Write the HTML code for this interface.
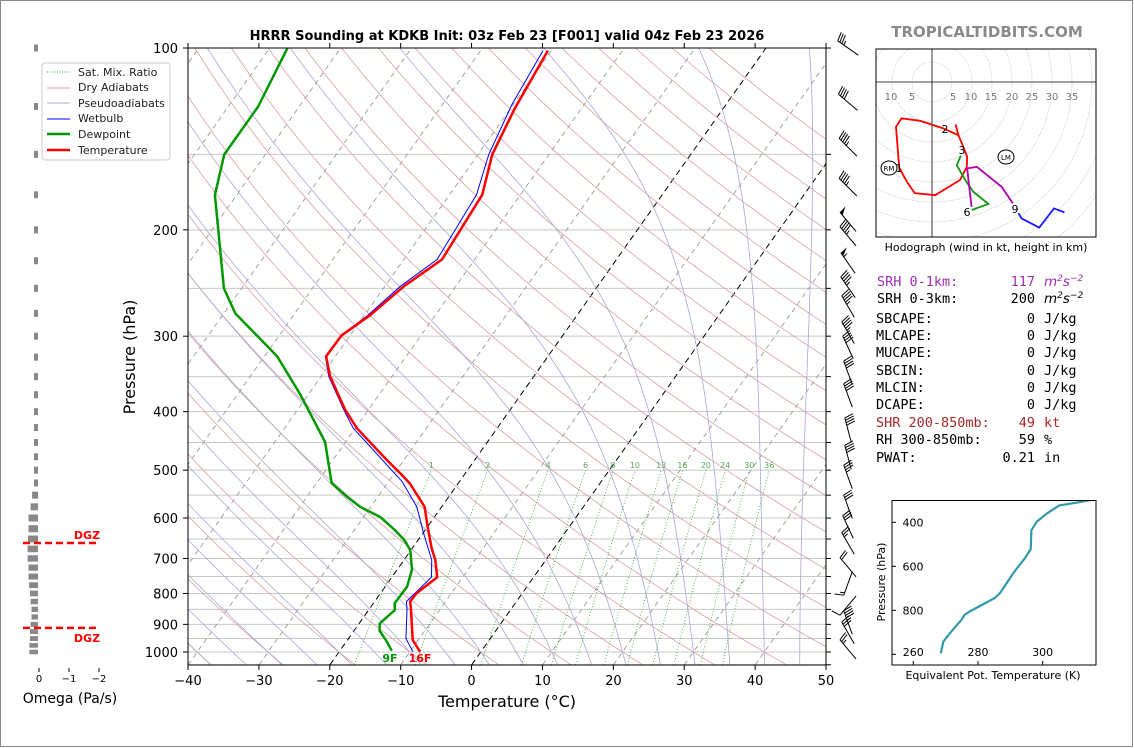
<!DOCTYPE html>
<html><head><meta charset="utf-8"><title>HRRR Sounding KDKB</title>
<style>
html,body{margin:0;padding:0;background:#fff;}
body{width:1134px;height:748px;overflow:hidden;}
svg{display:block;font-family:"DejaVu Sans","Liberation Sans",sans-serif;}
.mono{font-family:"DejaVu Sans Mono","Liberation Mono",monospace;}
</style></head>
<body>
<svg id="fig" width="1134" height="748" viewBox="0 0 1134 748" xmlns="http://www.w3.org/2000/svg">
  <rect x="0.5" y="0.5" width="1132" height="746" fill="#fff" stroke="#888"/>
  <defs>
    <clipPath id="plotclip"><rect x="188" y="48" width="638" height="617"/></clipPath>
    <clipPath id="hodoclip"><rect x="876" y="49" width="220" height="188"/></clipPath>
    <clipPath id="thclip"><rect x="892" y="500" width="204" height="165"/></clipPath>
  </defs>
  <text x="507" y="40" text-anchor="middle" font-size="13" font-weight="bold">HRRR Sounding at KDKB Init: 03z Feb 23 [F001] valid 04z Feb 23 2026</text>
  <text x="987" y="37" text-anchor="middle" font-size="15" font-weight="bold" fill="#8a8a8a">TROPICALTIDBITS.COM</text>

  <g id="bg" clip-path="url(#plotclip)"></g>
  <g id="profiles" clip-path="url(#plotclip)"></g>
  <rect x="188" y="48" width="638" height="617" fill="none" stroke="#000" stroke-width="1"/>
  <g id="axes"></g>
  <text x="507" y="707" text-anchor="middle" font-size="16">Temperature (°C)</text>
  <text x="0" y="0" transform="translate(135,357) rotate(-90)" text-anchor="middle" font-size="16">Pressure (hPa)</text>
  <text x="390" y="662" text-anchor="middle" font-size="11" font-weight="bold" fill="#009900">9F</text>
  <text x="420" y="662" text-anchor="middle" font-size="11" font-weight="bold" fill="#ff0000">16F</text>

  <g id="legend">
    <rect x="42" y="63" width="128" height="97" rx="3" fill="#fff" stroke="#ccc"/>
    <line x1="47" y1="72" x2="70" y2="72" stroke="#4a4" stroke-dasharray="1,1.5"/>
    <text x="78" y="76" font-size="11" fill="#222">Sat. Mix. Ratio</text>
    <line x1="47" y1="88" x2="70" y2="88" stroke="#d8aaaa"/>
    <text x="78" y="91" font-size="11" fill="#222">Dry Adiabats</text>
    <line x1="47" y1="103" x2="70" y2="103" stroke="#aaaad8"/>
    <text x="78" y="107" font-size="11" fill="#222">Pseudoadiabats</text>
    <line x1="47" y1="119" x2="70" y2="119" stroke="#00f"/>
    <text x="78" y="122" font-size="11" fill="#222">Wetbulb</text>
    <line x1="47" y1="134" x2="70" y2="134" stroke="#009900" stroke-width="2.5"/>
    <text x="78" y="138" font-size="11" fill="#222">Dewpoint</text>
    <line x1="47" y1="150" x2="70" y2="150" stroke="#f00" stroke-width="2.5"/>
    <text x="78" y="154" font-size="11" fill="#222">Temperature</text>
  </g>

  <g id="omega"></g>
  <text x="70" y="703" text-anchor="middle" font-size="14">Omega (Pa/s)</text>

  <g id="barbs"></g>

  <g id="hodo">
    <g id="hodoinner" clip-path="url(#hodoclip)"></g>
    <rect x="876" y="49" width="220" height="188" fill="none" stroke="#000"/>
  </g>
  <text x="986" y="251" text-anchor="middle" font-size="11">Hodograph (wind in kt, height in km)</text>

  <g class="mono" font-size="13.5">
    <text x="877" y="286" fill="#9b2fae">SRH 0-1km:</text>
    <text x="1035" y="286" fill="#9b2fae" text-anchor="end">117</text>
    <text x="1044" y="286" fill="#9b2fae" font-style="italic" font-family="DejaVu Sans">m<tspan dy="-5" font-size="9">2</tspan><tspan dy="5">s</tspan><tspan dy="-5" font-size="9">−2</tspan></text>
    <text x="877" y="303">SRH 0-3km:</text>
    <text x="1035" y="303" text-anchor="end">200</text>
    <text x="1044" y="303" font-style="italic" font-family="DejaVu Sans">m<tspan dy="-5" font-size="9">2</tspan><tspan dy="5">s</tspan><tspan dy="-5" font-size="9">−2</tspan></text>
    <text x="876" y="323">SBCAPE:</text><text x="1035" y="323" text-anchor="end">0</text><text x="1044" y="323">J/kg</text>
    <text x="876" y="340">MLCAPE:</text><text x="1035" y="340" text-anchor="end">0</text><text x="1044" y="340">J/kg</text>
    <text x="876" y="357">MUCAPE:</text><text x="1035" y="357" text-anchor="end">0</text><text x="1044" y="357">J/kg</text>
    <text x="876" y="375">SBCIN:</text><text x="1035" y="375" text-anchor="end">0</text><text x="1044" y="375">J/kg</text>
    <text x="876" y="392">MLCIN:</text><text x="1035" y="392" text-anchor="end">0</text><text x="1044" y="392">J/kg</text>
    <text x="876" y="409">DCAPE:</text><text x="1035" y="409" text-anchor="end">0</text><text x="1044" y="409">J/kg</text>
    <text x="876" y="427" fill="#a52a2a">SHR 200-850mb:</text><text x="1035" y="427" fill="#a52a2a" text-anchor="end">49</text><text x="1044" y="427" fill="#a52a2a">kt</text>
    <text x="876" y="444">RH 300-850mb:</text><text x="1035" y="444" text-anchor="end">59</text><text x="1044" y="444">%</text>
    <text x="876" y="462">PWAT:</text><text x="1035" y="462" text-anchor="end">0.21</text><text x="1044" y="462">in</text>
  </g>

  <g id="theta">
    <g id="thinner" clip-path="url(#thclip)"></g>
    <rect x="892" y="500.5" width="204" height="164.5" fill="none" stroke="#000"/>
  </g>
  <text x="0" y="0" transform="translate(885,582) rotate(-90)" text-anchor="middle" font-size="11">Pressure (hPa)</text>
  <text x="993" y="679" text-anchor="middle" font-size="11">Equivalent Pot. Temperature (K)</text>
</svg>
<script>
// ---------- Sounding data ----------
const tempP  = [999,955,841,825,799,752,704,673,620,575,526,509,481,426,397,350,324,299,277,248,224,175,150,126,101];
const tempC  = [-8.6,-10.8,-14.4,-15.0,-14.9,-13.6,-15.6,-17.3,-20.0,-22.4,-26.8,-28.8,-32.4,-39.8,-43.3,-48.7,-51.3,-51.2,-49.2,-47.3,-44.6,-45.4,-48.0,-49.4,-50.5];
const dewP   = [995,961,922,897,852,831,780,731,678,653,628,598,575,553,525,449,375,324,275,250,175,150,125,100];
const dewC   = [-12.7,-14.3,-16.4,-17.1,-16.3,-17.0,-16.9,-17.9,-20.1,-21.9,-24.3,-27.6,-31.5,-34.4,-37.9,-42.9,-51.1,-58.2,-68.4,-72.5,-83.1,-85.8,-85.8,-87.5];
const wetP   = [999,950,852,825,752,704,636,575,522,426,397,350,324,299,277,248,224,175,150,124,101];
const wetC   = [-9.6,-11.9,-14.6,-15.5,-14.4,-16.1,-19.9,-23.5,-28.1,-40.3,-43.5,-48.9,-51.4,-51.3,-49.5,-47.8,-45.3,-46.2,-48.5,-50.2,-51.2];
const mixRatios = [1,2,4,6,8,10,13,16,20,24,30,36];
const xTicks = [-40,-30,-20,-10,0,10,20,30,40,50];
const yTicks = [100,200,300,400,500,600,700,800,900,1000];
// omega (Pa/s)
const omegaP = [100,125,150,175,200,225,250,275,300,325,350,375,400,425,450,475,500,525,550,575,600,625,650,675,700,725,750,775,800,825,850,875,900,925,950,975,1000];
const omegaV = [0.03,0.06,0.05,0.1,0.1,0.06,0.06,0.06,0.07,0.07,0.07,0.1,0.07,0.05,0.02,0.02,0.03,0.05,0.23,0.28,0.35,0.35,0.37,0.38,0.38,0.35,0.35,0.33,0.3,0.28,0.25,0.25,0.28,0.3,0.3,0.32,0.32];
const dgzP = [660,912];
// wind barbs: pressure, direction (deg), speed (kt)
const barbP   = [100,123,146,170,194,205,227,249,268,296,313,345,376,429,476,513,575,621,661,724,770,838,894,930,990];
const barbDir = [305,310,315,315,320,320,325,325,330,330,335,340,340,345,345,340,340,335,330,320,200,220,340,330,320];
const barbSpd = [35,40,45,45,50,45,55,45,45,45,40,40,40,40,40,35,30,30,25,20,15,10,45,30,25];
// hodograph (u,v kt)
const hodoRedU = [5.9,6.6,7.8,8.8,8.7,7.0,0.8,-4.3,-6.3,-8.2,-9.0,-7.6,-3.0,2.8,6.6];
const hodoRedV = [-10.6,-13.3,-16.2,-18.7,-21.2,-24.5,-28.3,-27.8,-24.9,-21.4,-11.2,-9.1,-9.7,-11.6,-13.3];
const hodoGreenU = [7.2,6.2,8.3,10.3,14.1,9.9];
const hodoGreenV = [-18.4,-20.8,-24.5,-27.4,-30.5,-32.0];
const hodoMagU = [9.9,9.3,8.8,11.2,17.4,20.2];
const hodoMagV = [-31.2,-26.2,-21.6,-21.2,-26.2,-30.3];
const hodoBlueU = [21.6,22.4,26.8,30.5,33.1];
const hodoBlueV = [-32.8,-34.1,-36.4,-31.6,-32.6];
const hodoRings = [5,10,15,20,25,30,35,40,45,50];
// theta-e
const thetaP = [995,942,904,843,820,805,744,722,631,563,522,436,398,361,323,308,290];
const thetaK = [268.5,269.3,271.3,274.9,275.9,277.5,285.2,286.8,290.9,294.5,296.3,296.5,298.1,301.2,305.1,311.5,318];

// ---------- helpers ----------
const NS='http://www.w3.org/2000/svg';
function mk(tag, attrs, parent){const e=document.createElementNS(NS,tag);for(const k in attrs)e.setAttribute(k,attrs[k]);parent.appendChild(e);return e;}
const PX=7.089, SK=0.707;
function yP(p){return 48+604*Math.log10(p/100);}
function xT(T,p){return 188+(T+40)*PX+(665-yP(p))*SK;}
function pts(P,T){return P.map((p,i)=>xT(T[i],p).toFixed(1)+','+yP(p).toFixed(1)).join(' ');}
function es(Tc){return 6.112*Math.exp(17.67*Tc/(Tc+243.5));}

const bg=document.getElementById('bg');
for(let p=100;p<=1050;p+=50){
  const l=mk('line',{x1:188,x2:826,y1:yP(p),y2:yP(p),stroke:'#c8c8c8','stroke-width':1},bg);
  
  
}
for(let T=-160;T<=50;T+=10){
  const dark=(T===0||T===-20);
  const l=mk('line',{x1:xT(T,1050),y1:yP(1050),x2:xT(T,100),y2:yP(100),stroke:dark?'#000':'#999','stroke-width':dark?1:0.9,'stroke-dasharray':dark?'6,4':'5,4'},bg);
  
  
}
for(let th=-40;th<=200;th+=10){
  const arr=[];
  for(let p=1050;p>=100;p-=10){const T=(th+273.15)*Math.pow(p/1000,0.2857)-273.15;arr.push(xT(T,p).toFixed(1)+','+yP(p).toFixed(1));}
  const l=mk('polyline',{points:arr.join(' '),fill:'none',stroke:'#d9a0a0','stroke-width':0.8},bg);
  
  
}
function moistLine(T0){
  const Rd=287.04,cp=1005.7,Lv=2.501e6,eps=0.622;
  function dTdp(T,p){const Tc=T-273.15;const e=es(Tc);const rs=eps*e/(p-e);return (Rd*T+Lv*rs)/(cp+Lv*Lv*rs*eps/(Rd*T*T))/p;}
  const out=[];let T=T0+273.15;
  let Td=T; for(let p=1000;p<1050;p+=2){Td+=dTdp(Td,p)*2;} out.push([1050,Td]);
  out.push([1000,T]);
  for(let p=1000;p>100;p-=2){ const d=dTdp(T,p); T-=d*2; if((p-2)%10===0) out.push([p-2,T]); }
  return out;
}
for(let t=-40;t<=45;t+=5){
  const a=moistLine(t).map(q=>xT(q[1]-273.15,q[0]).toFixed(1)+','+yP(q[0]).toFixed(1));
  const l=mk('polyline',{points:a.join(' '),fill:'none',stroke:'#a8a8d8','stroke-width':0.8},bg);
  
  
}
mixRatios.forEach(w=>{
  const arr=[];
  for(let p=1050;p>=500;p-=10){const e=w*p/(622+w);const L=Math.log(e/6.112);const Td=243.5*L/(17.67-L);arr.push(xT(Td,p).toFixed(1)+','+yP(p).toFixed(1));}
  const l=mk('polyline',{points:arr.join(' '),fill:'none',stroke:'#44aa44','stroke-width':0.9,'stroke-dasharray':'1,2'},bg);
  
  
  const e=w*500/(622+w);const L=Math.log(e/6.112);const Td=243.5*L/(17.67-L);
  const t=mk('text',{x:xT(Td,500),y:468,'font-size':8,fill:'#55aa55','text-anchor':'middle'},bg);
  t.textContent=w;
  
  
});

const pr=document.getElementById('profiles');
let l=mk('polyline',{points:pts(wetP,wetC),fill:'none',stroke:'#0000ff','stroke-width':1},pr);


l=mk('polyline',{points:pts(dewP,dewC),fill:'none',stroke:'#009900','stroke-width':2.5,'stroke-linejoin':'round'},pr);


l=mk('polyline',{points:pts(tempP,tempC),fill:'none',stroke:'#ff0000','stroke-width':2.5,'stroke-linejoin':'round'},pr);



const ax=document.getElementById('axes');
xTicks.forEach(T=>{
  const x=188+(T+40)*PX;
  const tk=mk('line',{x1:x,x2:x,y1:665,y2:670,stroke:'#000'},ax);
  
  
  const tt=mk('line',{x1:x,x2:x,y1:48,y2:43,stroke:'#000'},ax);
  
  
  const t=mk('text',{x:x,y:685,'font-size':13,'text-anchor':'middle'},ax);
  t.textContent=(T<0?'\u2212'+(-T):T);
  
  
});
yTicks.forEach(p=>{
  const y=yP(p);
  const tk=mk('line',{x1:183,x2:188,y1:y,y2:y,stroke:'#000'},ax);
  
  
  const t=mk('text',{x:178,y:y+5,'font-size':13,'text-anchor':'end'},ax);
  t.textContent=p;
  
  
});
for(let p=100;p<=1050;p+=50){
  const tk=mk('line',{x1:826,x2:831,y1:yP(p),y2:yP(p),stroke:'#000'},ax);
  
  
}

const om=document.getElementById('omega');
const oX=v=>39-v*30;
omegaP.forEach((p,i)=>{
  const y=yP(p);
  const h=Math.max(4,Math.min(7,(yP(p+25)-y)*0.7));
  const x1=oX(omegaV[i]);
  const w=Math.max(4,38-x1);
  const r=mk('rect',{x:38-w,y:y-h/2,width:w,height:h,fill:'#888'},om);
  
  
});
[0,-1,-2].forEach(v=>{
  const x=oX(v);
  const tk=mk('line',{x1:x,x2:x,y1:668,y2:672,stroke:'#000'},om);
  
  
  const t=mk('text',{x:x,y:682,'font-size':10,'text-anchor':'middle'},om);
  t.textContent=v<0?'\u2212'+(-v):v;
  
  
});
dgzP.forEach((p,i)=>{
  const y=yP(p);
  const d=mk('line',{x1:23,x2:99,y1:y,y2:y,stroke:'#ff0000','stroke-width':2.5,'stroke-dasharray':'7,4'},om);
  
  
  const t=mk('text',{x:87,y:i===0?y-4:y+14,'font-size':11,'font-weight':'bold',fill:'#ff0000','text-anchor':'middle'},om);
  t.textContent='DGZ';
  
  
});

const bb=document.getElementById('barbs');
barbP.forEach((p,i)=>{
  const cx=848, cy=yP(p), d=barbDir[i]*Math.PI/180;
  const ux=Math.sin(d), uy=-Math.cos(d);
  const px=-uy, py=ux;
  const g=mk('g',{},bb);
  
  
  const tx=cx+12.5*ux, ty=cy+12.5*uy;
  mk('line',{x1:cx-12.5*ux,y1:cy-12.5*uy,x2:tx,y2:ty,stroke:'#000','stroke-width':1},g);
  let s=Math.round(barbSpd[i]/5)*5, pos=0;
  while(s>=50){
    const a=[tx-pos*ux,ty-pos*uy],b=[tx-(pos+4)*ux,ty-(pos+4)*uy],c=[a[0]+8*px+1*ux,a[1]+8*py+1*uy];
    mk('polygon',{points:`${a[0]},${a[1]} ${c[0]},${c[1]} ${b[0]},${b[1]}`,fill:'#000'},g);
    pos+=5; s-=50;
  }
  while(s>=10){
    const a=[tx-pos*ux,ty-pos*uy];
    mk('line',{x1:a[0],y1:a[1],x2:a[0]+9*px+2*ux,y2:a[1]+9*py+2*uy,stroke:'#000','stroke-width':1},g);
    pos+=2.5; s-=10;
  }
  if(s>=5){
    const a=[tx-pos*ux,ty-pos*uy];
    mk('line',{x1:a[0],y1:a[1],x2:a[0]+4.5*px+1*ux,y2:a[1]+4.5*py+1*uy,stroke:'#000','stroke-width':1},g);
  }
});

const hi=document.getElementById('hodoinner');
const HX=u=>932+u*4, HY=v=>82-v*4;
hodoRings.forEach(r=>{
  const c=mk('circle',{cx:932,cy:82,r:r*4,fill:'none',stroke:'#bbb','stroke-width':0.8,'stroke-dasharray':'1,1.5'},hi);
  
  
});
mk('line',{x1:876,x2:1096,y1:82,y2:82,stroke:'#000','stroke-width':0.8},hi);
mk('line',{x1:932,x2:932,y1:49,y2:237,stroke:'#000','stroke-width':0.8},hi);
[[-10,891],[-5,912]].concat([[5,953],[10,971],[15,991],[20,1012],[25,1032],[30,1052],[35,1072]]).forEach(a=>{
  const t=mk('text',{x:a[1],y:100,'font-size':10,fill:'#777','text-anchor':'middle'},hi);
  t.textContent=Math.abs(a[0]);
  
  
});
function hline(U,V,col,name){
  const l=mk('polyline',{points:U.map((u,i)=>HX(u)+','+HY(V[i])).join(' '),fill:'none',stroke:col,'stroke-width':1.8},hi);
  
  
}
hline(hodoRedU,hodoRedV,'#ff0000','hodograph-0-3km');
hline(hodoGreenU,hodoGreenV,'#119911','hodograph-3-6km');
hline(hodoMagU,hodoMagV,'#b000b0','hodograph-6-9km');
hline(hodoBlueU,hodoBlueV,'#1a1aff','hodograph-9km-up');
[['1',899,172],['2',945,133],['3',962,154],['6',967,216],['9',1015,213]].forEach(a=>{
  const t=mk('text',{x:a[1],y:a[2],'font-size':11,'text-anchor':'middle'},hi);
  t.textContent=a[0];
  
  
});
[['RM',889,168],['LM',1006,157]].forEach(a=>{
  const e=mk('ellipse',{cx:a[1],cy:a[2],rx:8,ry:7,fill:'#fff',stroke:'#000','stroke-width':1},hi);
  
  
  const t=mk('text',{x:a[1],y:a[2]+3,'font-size':7,'text-anchor':'middle'},hi);
  t.textContent=a[0];
  
  
});

const th=document.getElementById('theta');
const thi=document.getElementById('thinner');
const TX=k=>913.3+(k-260)*3.235, TY=p=>522.3+(p-400)*0.22;
const tl=mk('polyline',{points:thetaP.map((p,i)=>TX(thetaK[i]).toFixed(1)+','+TY(p).toFixed(1)).join(' '),fill:'none',stroke:'#3399aa','stroke-width':2.2,'stroke-linejoin':'round'},thi);


[400,600,800,1000].forEach(p=>{
  const y=TY(p);
  const tk=mk('line',{x1:892,x2:896,y1:y,y2:y,stroke:'#000'},th);
  
  
  if(p<1000){
    const t=mk('text',{x:913,y:y+4,'font-size':11,'text-anchor':'middle'},th);
    t.textContent=p;
    
    
  }
});
[260,280,300].forEach(k=>{
  const x=TX(k);
  const tk=mk('line',{x1:x,x2:x,y1:665,y2:661,stroke:'#000'},th);
  
  
  const t=mk('text',{x:x,y:656,'font-size':11,'text-anchor':'middle'},th);
  t.textContent=k;
  
  
});
</script>
</body></html>
